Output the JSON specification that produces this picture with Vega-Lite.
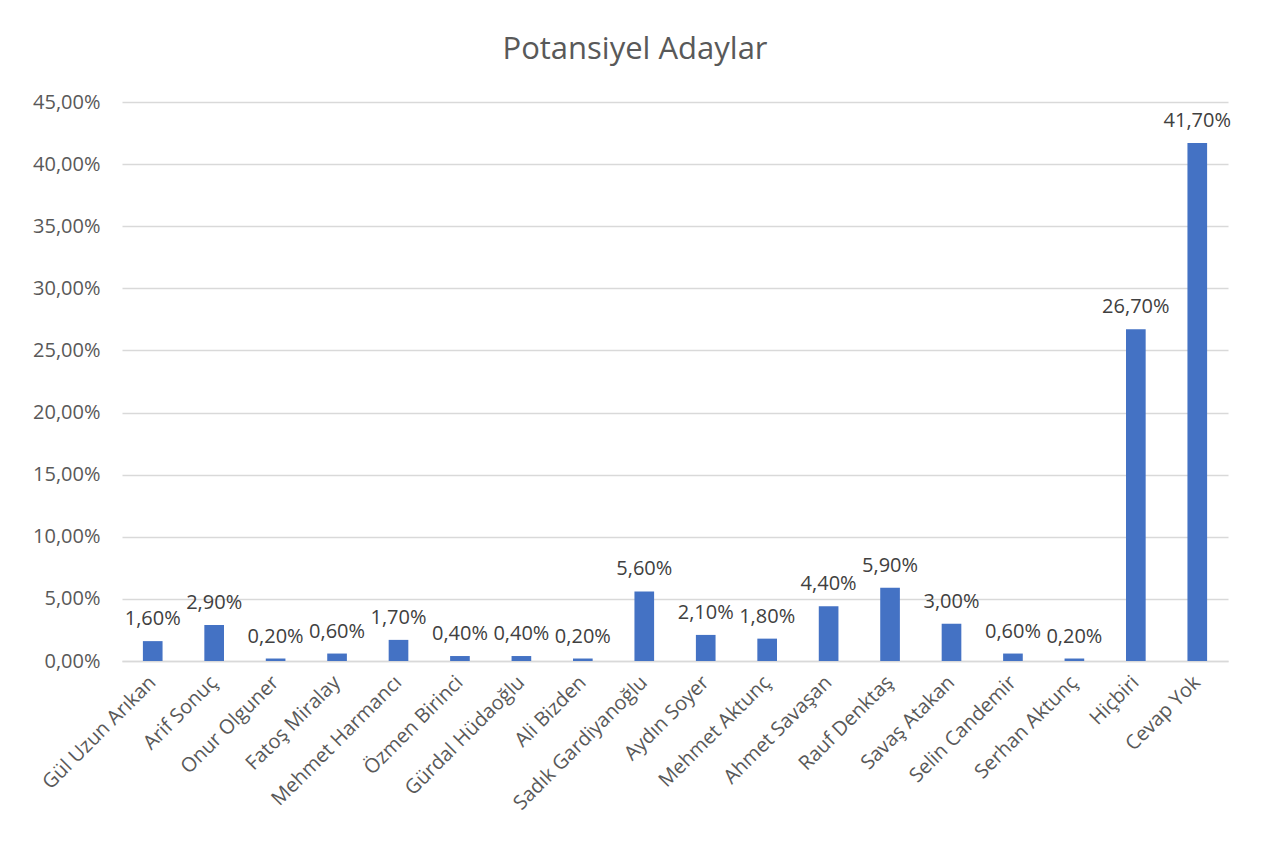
{
  "$schema": "https://vega.github.io/schema/vega-lite/v6.json",
  "width": 1106,
  "height": 559,
  "autosize": {"type": "none"},
  "padding": {"left": 122, "top": 102, "right": 33, "bottom": 184},
  "background": "white",
  "title": {
    "text": "Potansiyel Adaylar",
    "fontSize": 31,
    "font": "Open Sans",
    "fontWeight": "normal",
    "color": "#595959",
    "offset": 26,
    "dx": -40
  },
  "config": {
    "locale": {
      "number": {"decimal": ",", "thousands": ".", "grouping": [3], "currency": ["", " TL"]}
    },
    "view": {"stroke": null},
    "font": "Open Sans"
  },
  "data": {
    "values": [
      {"aday": "Gül Uzun Arıkan", "oran": 0.016},
      {"aday": "Arif Sonuç", "oran": 0.029},
      {"aday": "Onur Olguner", "oran": 0.002},
      {"aday": "Fatoş Miralay", "oran": 0.006},
      {"aday": "Mehmet Harmancı", "oran": 0.017},
      {"aday": "Özmen Birinci", "oran": 0.004},
      {"aday": "Gürdal Hüdaoğlu", "oran": 0.004},
      {"aday": "Ali Bizden", "oran": 0.002},
      {"aday": "Sadık Gardiyanoğlu", "oran": 0.056},
      {"aday": "Aydın Soyer", "oran": 0.021},
      {"aday": "Mehmet Aktunç", "oran": 0.018},
      {"aday": "Ahmet Savaşan", "oran": 0.044},
      {"aday": "Rauf Denktaş", "oran": 0.059},
      {"aday": "Savaş Atakan", "oran": 0.030},
      {"aday": "Selin Candemir", "oran": 0.006},
      {"aday": "Serhan Aktunç", "oran": 0.002},
      {"aday": "Hiçbiri", "oran": 0.267},
      {"aday": "Cevap Yok", "oran": 0.417}
    ]
  },
  "encoding": {
    "x": {
      "field": "aday",
      "type": "nominal",
      "sort": null,
      "scale": {"paddingInner": 0.68, "paddingOuter": 0.34},
      "axis": {
        "title": null,
        "labelAngle": -45,
        "labelAlign": "right",
        "labelBaseline": "middle",
        "labelFontSize": 20,
        "labelColor": "#595959",
        "labelPadding": 18,
        "ticks": false,
        "domainColor": "#d9d9d9",
        "domainWidth": 1.5,
        "labelLimit": 400
      }
    },
    "y": {
      "field": "oran",
      "type": "quantitative",
      "scale": {"domain": [0, 0.45], "nice": false},
      "axis": {
        "title": null,
        "format": ".2%",
        "values": [0, 0.05, 0.1, 0.15, 0.2, 0.25, 0.3, 0.35, 0.4, 0.45],
        "labelFontSize": 20,
        "labelColor": "#595959",
        "labelPadding": 22,
        "ticks": false,
        "domain": false,
        "gridColor": "#d9d9d9",
        "gridWidth": 1.5
      }
    }
  },
  "layer": [
    {"mark": {"type": "bar", "color": "#4472C4"}},
    {
      "mark": {"type": "text", "baseline": "bottom", "dy": -12, "fontSize": 20, "color": "#404040"},
      "encoding": {"text": {"field": "oran", "type": "quantitative", "format": ".2%"}}
    }
  ]
}
